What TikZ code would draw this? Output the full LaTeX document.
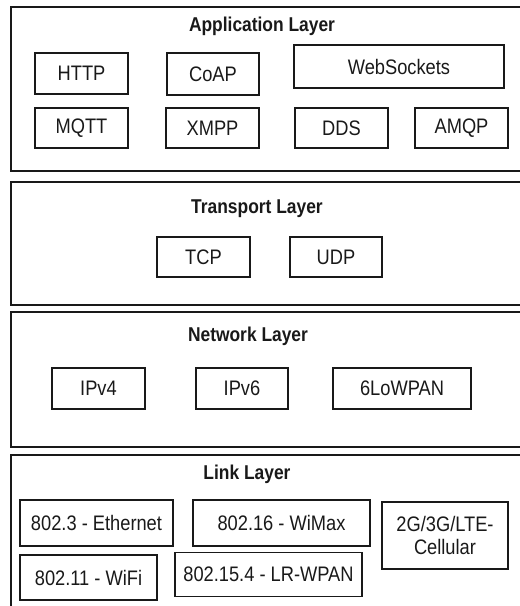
\documentclass[tikz,border=0pt]{standalone}
\usepackage{fontspec}
\setmainfont{Liberation Sans}[FakeStretch=0.87]
\begin{document}
\begin{tikzpicture}[x=1pt, y=-1pt,
  layer/.style={draw=black!90, line width=1.7pt},
  proto/.style={draw=black!90, line width=1.5pt, rectangle, inner sep=0pt,
    font=\fontsize{21}{22.5}\selectfont, text=black!90},
  ltitle/.style={font=\fontsize{20}{22}\selectfont\bfseries, text=black!90, inner sep=0pt}]
\useasboundingbox (0,0) rectangle (520,606);
\begin{scope}
\clip (0,0) rectangle (520,606);

% Application layer
\draw[layer] (11,7) rectangle (530,171);
\node[ltitle] (apptitle) at (262,26) {Application Layer};
\node[proto, minimum width=93pt, minimum height=41pt] (http) at (81.5,73.5) {HTTP};
\node[proto, minimum width=92pt, minimum height=42pt] (coap) at (213,74) {CoAP};
\node[proto, minimum width=210pt, minimum height=43pt] (ws) at (399,66.5) {WebSockets};
\node[proto, minimum width=93pt, minimum height=40pt] (mqtt) at (81.5,128) {MQTT};
\node[proto, minimum width=93pt, minimum height=40pt] (xmpp) at (212.5,128) {XMPP};
\node[proto, minimum width=93pt, minimum height=40pt] (dds) at (341.5,128) {DDS};
\node[proto, minimum width=93pt, minimum height=40pt] (amqp) at (461.5,128) {AMQP};

% Transport layer
\draw[layer] (11,182) rectangle (530,305);
\node[ltitle] (tratitle) at (257,209) {Transport Layer};
\node[proto, minimum width=93pt, minimum height=40pt] (tcp) at (203.5,257) {TCP};
\node[proto, minimum width=92pt, minimum height=40pt] (udp) at (336,257) {UDP};

% Network layer
\draw[layer] (11,312) rectangle (530,447);
\node[ltitle] (nettitle) at (248,336) {Network Layer};
\node[proto, minimum width=93pt, minimum height=41pt] (ipv4) at (98.5,388.5) {IPv4};
\node[proto, minimum width=92pt, minimum height=41pt] (ipv6) at (242,388.5) {IPv6};
\node[proto, minimum width=138pt, minimum height=41pt] (lowpan) at (402,388.5) {6LoWPAN};

% Link layer
\draw[layer] (11,455) rectangle (530,620);
\node[ltitle] (linktitle) at (247,474) {Link Layer};
\node[proto, minimum width=153pt, minimum height=46pt] (eth) at (96.5,523) {802.3 - Ethernet};
\node[proto, minimum width=177pt, minimum height=46pt] (wimax) at (281.5,523) {802.16 - WiMax};
\node[proto, minimum width=126pt, minimum height=67pt, align=center] (cell) at (445,535.5) {2G/3G/LTE-\\Cellular};
\node[proto, minimum width=137pt, minimum height=45pt] (wifi) at (88.5,577.5) {802.11 - WiFi};
\node[proto, minimum width=187pt, minimum height=44pt] (wpan) at (268.5,574.5) {802.15.4 - LR-WPAN};
\end{scope}
\end{tikzpicture}
\end{document}
